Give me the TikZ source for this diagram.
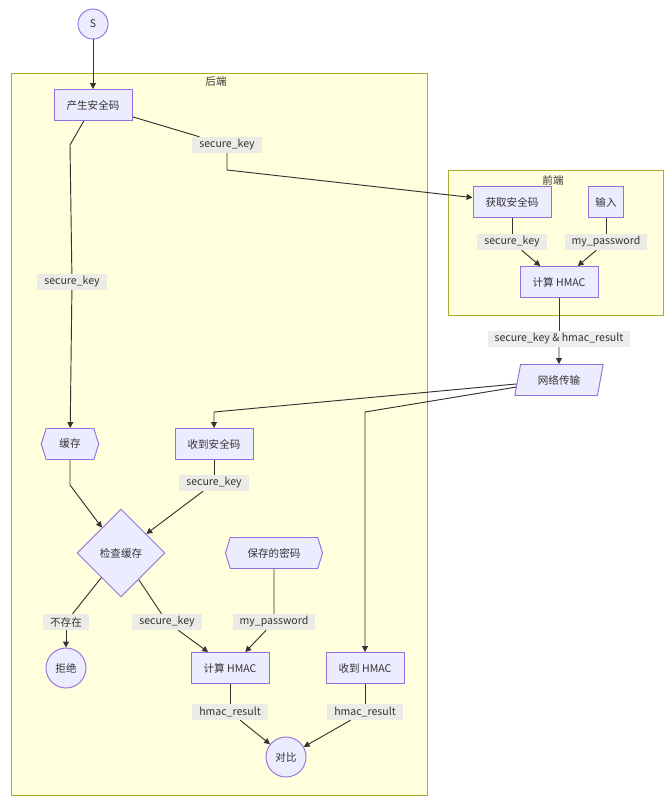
\documentclass[tikz,border=0pt]{standalone}
\usepackage{fontspec}
\setmainfont{Noto Sans CJK SC}
\usetikzlibrary{arrows.meta,positioning,shapes.geometric,shapes.symbols}
\definecolor{nodefill}{HTML}{ECECFF}
\definecolor{nodeline}{HTML}{9370DB}
\definecolor{clusterfill}{HTML}{FFFFDE}
\definecolor{clusterline}{HTML}{AAAA33}
\definecolor{labelfill}{HTML}{E8E8E8}
\definecolor{ink}{HTML}{333333}
\tikzset {
    proc/.style={draw=nodeline, fill=nodefill, line width=0.8pt, text=ink,
        minimum height=0.93cm, inner xsep=0.38cm},
    hexbox/.style={proc, signal, signal to=west and east,
        signal pointer angle=145, inner xsep=0.3cm},
    decision/.style={proc, diamond, aspect=1, minimum width=2.64cm,
        minimum height=2.64cm, inner sep=0pt},
    terminal/.style={proc, circle, inner sep=0pt},
    io/.style={proc, trapezium, trapezium left angle=72,
        trapezium right angle=108, trapezium stretches body,
        minimum width=2.65cm},
    cluster/.style={draw=clusterline, fill=clusterfill, line width=0.8pt},
    edgelabel/.style={fill=labelfill, fill opacity=0.8, text opacity=1,
        text=ink, inner xsep=6pt, inner ysep=1pt, minimum height=0.48cm},
    flow/.style={draw=ink, line width=0.8pt},
    >={Triangle[length=5pt, width=5pt]}
}
\begin{document}
\begin{tikzpicture}[x=0.03cm, y=-0.03cm, font=\fontsize{9}{11}\selectfont]

        \useasboundingbox (0,0) rectangle (669,800);

        \draw[cluster] (11,73) rectangle (427,795);
        \draw[cluster] (448,170) rectangle (663,315);
        \node[text=ink] (backendTitle) at (216,82) {后端};
        \node[text=ink] (frontendTitle) at (553,180) {前端};

        \node[terminal, minimum size=0.9cm] (start) at (93,24) {S};
        \node[proc] (gen) at (93,105) {产生安全码};

        \node[proc] (fetch) at (512,202) {获取安全码};
        \node[proc, inner xsep=0.22cm] (input) at (606,202) {输入};
        \node[proc] (hmacF) at (559,282) {计算 HMAC};
        \node[io] (net) at (559,380) {网络传输};

        \node[hexbox, inner xsep=0.4cm] (cache) at (70,444) {缓存};
        \node[proc] (recvKey) at (214,444) {收到安全码};
        \node[decision] (check) at (121,553) {检查缓存};
        \node[hexbox, inner xsep=0.52cm] (saved) at (274,553) {保存的密码};
        \node[terminal, minimum size=1.2cm] (reject) at (66,668) {拒绝};
        \node[proc] (hmacB) at (230,668) {计算 HMAC};
        \node[proc] (recvH) at (365,668) {收到 HMAC};
        \node[terminal, minimum size=1.2cm] (cmp) at (286,757) {对比};

        \node[edgelabel] (lKeyA) at (227,145) {secure\_key};
        \node[edgelabel] (lKeyB) at (72,282) {secure\_key};
        \node[edgelabel] (lKeyF) at (512,242) {secure\_key};
        \node[edgelabel] (lPwdF) at (606,242) {my\_password};
        \node[edgelabel] (lBoth) at (559,339) {secure\_key \& hmac\_result};
        \node[edgelabel] (lKeyR) at (214,483) {secure\_key};
        \node[edgelabel] (lMiss) at (66,622) {不存在};
        \node[edgelabel] (lKeyC) at (167,622) {secure\_key};
        \node[edgelabel] (lPwdB) at (274,622) {my\_password};
        \node[edgelabel] (lResB) at (230,712) {hmac\_result};
        \node[edgelabel] (lResR) at (365,712) {hmac\_result};

        \coordinate (kA) at (227,170);
        \coordinate (kB) at (70,145);
        \coordinate (kC) at (214,412);
        \coordinate (kD) at (365,412);
        \coordinate (kE) at (70,485);

        \draw[flow, ->] (start) -- (gen);

        \draw[flow] (gen) -- (lKeyA);
        \draw[flow, ->] (lKeyA) -- (kA) -- (fetch);
        \draw[flow] (gen) -- (kB) -- (lKeyB);
        \draw[flow, ->] (lKeyB) -- (cache);

        \draw[flow] (fetch) -- (lKeyF);
        \draw[flow, ->] (lKeyF) -- (hmacF);
        \draw[flow] (input) -- (lPwdF);
        \draw[flow, ->] (lPwdF) -- (hmacF);
        \draw[flow] (hmacF) -- (lBoth);
        \draw[flow, ->] (lBoth) -- (net);

        \draw[flow, ->] (net) -- (kC) -- (recvKey);
        \draw[flow, ->] (net) -- (kD) -- (recvH);

        \draw[flow, ->] (cache) -- (kE) -- (check);
        \draw[flow] (recvKey) -- (lKeyR);
        \draw[flow, ->] (lKeyR) -- (check);

        \draw[flow] (check) -- (lMiss);
        \draw[flow, ->] (lMiss) -- (reject);
        \draw[flow] (check) -- (lKeyC);
        \draw[flow, ->] (lKeyC) -- (hmacB);
        \draw[flow] (saved) -- (lPwdB);
        \draw[flow, ->] (lPwdB) -- (hmacB);

        \draw[flow] (hmacB) -- (lResB);
        \draw[flow, ->] (lResB) -- (cmp);
        \draw[flow] (recvH) -- (lResR);
        \draw[flow, ->] (lResR) -- (cmp);

\end{tikzpicture}
\end{document}
